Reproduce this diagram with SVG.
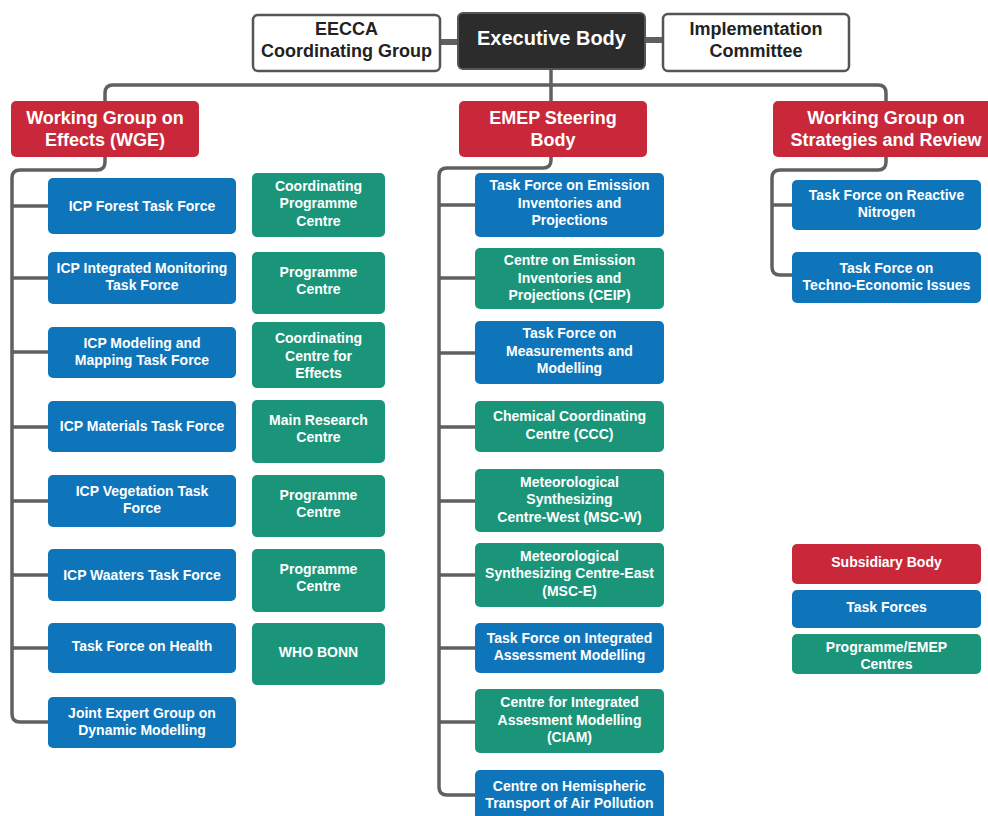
<svg xmlns="http://www.w3.org/2000/svg" width="988" height="816" viewBox="0 0 988 816">
<style>
text{font-family:"Liberation Sans",Arial,sans-serif;font-weight:bold;text-anchor:middle;fill:#fff;font-size:14px}
.red{fill:#C8283A}
.blue{fill:#0E75BA}
.green{fill:#1B957A}
.wbox{fill:#fff;stroke:#555;stroke-width:2.5}
.dark{fill:#2c2c2c;stroke:#555;stroke-width:2}
.hd{font-size:18px}
.dk{fill:#222;font-size:18px}
.eb{font-size:20px}
.c{fill:none;stroke:#606060;stroke-width:3.5;stroke-linejoin:round}
.ct{fill:none;stroke:#606060;stroke-width:6}
</style>
<rect width="988" height="816" fill="#fff"/>
<g id="connectors">
<path class="ct" d="M440,42 H458"/>
<path class="ct" d="M645,40 H663"/>
<path class="c" d="M105,101 V93 Q105,85 113,85 H878 Q886,85 886,93 V101"/>
<path class="c" d="M551,69 V101"/>
<path class="c" d="M105,157 V162 Q105,170 97,170 H20 Q12,170 12,178 V714 Q12,722 20,722 H48"/>
<path class="c" d="M12,206 H48 M12,278 H48 M12,352 H48 M12,427 H48 M12,501 H48 M12,575 H48 M12,648 H48"/>
<path class="c" d="M551,157 V160 Q551,168 543,168 H447 Q439,168 439,176 V787 Q439,795 447,795 H475"/>
<path class="c" d="M439,205 H475 M439,278 H475 M439,353 H475 M439,427 H475 M439,501 H475 M439,575 H475 M439,648 H475 M439,722 H475"/>
<path class="c" d="M886,157 V162 Q886,170 878,170 H780 Q772,170 772,178 V267 Q772,275 780,275 H792"/>
<path class="c" d="M772,205 H792"/>
</g>
<g id="eecca"><rect class="wbox" x="253" y="15" width="187" height="56" rx="5"/><text class="dk" x="346.5" y="35">EECCA</text><text class="dk" x="346.5" y="57">Coordinating Group</text></g>
<g id="executive"><rect class="dark" x="458" y="13" width="187" height="56" rx="5"/><text class="eb" x="551.5" y="45">Executive Body</text></g>
<g id="impl"><rect class="wbox" x="663" y="14" width="186" height="57" rx="5"/><text class="dk" x="756" y="35">Implementation</text><text class="dk" x="756" y="57">Committee</text></g>

<g id="wge"><rect class="red" x="11" y="101" width="188" height="56" rx="5"/><text class="hd" x="105" y="124">Working Group on</text><text class="hd" x="105" y="146">Effects (WGE)</text></g>
<g id="emep"><rect class="red" x="459" y="101" width="188" height="56" rx="5"/><text class="hd" x="553" y="124">EMEP Steering</text><text class="hd" x="553" y="146">Body</text></g>
<g id="wgsr"><rect class="red" x="773" y="101" width="222" height="56" rx="5"/><text class="hd" x="886" y="124">Working Group on</text><text class="hd" x="886" y="146">Strategies and Review</text></g>

<g id="icp-forest"><rect class="blue" x="48" y="178" width="188" height="56" rx="5"/><text x="142" y="211">ICP Forest Task Force</text></g>
<g id="icp-integrated"><rect class="blue" x="48" y="252" width="188" height="52" rx="5"/><text x="142" y="273">ICP Integrated Monitoring</text><text x="142" y="290">Task Force</text></g>
<g id="icp-modeling"><rect class="blue" x="48" y="327" width="188" height="51" rx="5"/><text x="142" y="348">ICP Modeling and</text><text x="142" y="365">Mapping Task Force</text></g>
<g id="icp-materials"><rect class="blue" x="48" y="401" width="188" height="51" rx="5"/><text x="142" y="431">ICP Materials Task Force</text></g>
<g id="icp-vegetation"><rect class="blue" x="48" y="475" width="188" height="52" rx="5"/><text x="142" y="496">ICP Vegetation Task</text><text x="142" y="513">Force</text></g>
<g id="icp-waters"><rect class="blue" x="48" y="549" width="188" height="52" rx="5"/><text x="142" y="580">ICP Waaters Task Force</text></g>
<g id="tf-health"><rect class="blue" x="48" y="623" width="188" height="50" rx="5"/><text x="142" y="651">Task Force on Health</text></g>
<g id="joint-expert"><rect class="blue" x="48" y="697" width="188" height="51" rx="5"/><text x="142" y="718">Joint Expert Group on</text><text x="142" y="735">Dynamic Modelling</text></g>

<g id="cpc"><rect class="green" x="252" y="173" width="133" height="64" rx="5"/><text x="318.5" y="191">Coordinating</text><text x="318.5" y="208">Programme</text><text x="318.5" y="226">Centre</text></g>
<g id="pc1"><rect class="green" x="252" y="252" width="133" height="62" rx="5"/><text x="318.5" y="277">Programme</text><text x="318.5" y="294">Centre</text></g>
<g id="cce"><rect class="green" x="252" y="322" width="133" height="66" rx="5"/><text x="318.5" y="343">Coordinating</text><text x="318.5" y="361">Centre for</text><text x="318.5" y="378">Effects</text></g>
<g id="mrc"><rect class="green" x="252" y="400" width="133" height="63" rx="5"/><text x="318.5" y="425">Main Research</text><text x="318.5" y="442">Centre</text></g>
<g id="pc2"><rect class="green" x="252" y="475" width="133" height="62" rx="5"/><text x="318.5" y="500">Programme</text><text x="318.5" y="517">Centre</text></g>
<g id="pc3"><rect class="green" x="252" y="549" width="133" height="63" rx="5"/><text x="318.5" y="574">Programme</text><text x="318.5" y="591">Centre</text></g>
<g id="who"><rect class="green" x="252" y="623" width="133" height="62" rx="5"/><text x="318.5" y="657">WHO BONN</text></g>

<g id="tf-emission"><rect class="blue" x="475" y="173" width="189" height="64" rx="5"/><text x="569.5" y="190">Task Force on Emission</text><text x="569.5" y="208">Inventories and</text><text x="569.5" y="225">Projections</text></g>
<g id="ceip"><rect class="green" x="475" y="248" width="189" height="61" rx="5"/><text x="569.5" y="265">Centre on Emission</text><text x="569.5" y="283">Inventories and</text><text x="569.5" y="300">Projections (CEIP)</text></g>
<g id="tf-measure"><rect class="blue" x="475" y="321" width="189" height="63" rx="5"/><text x="569.5" y="338">Task Force on</text><text x="569.5" y="356">Measurements and</text><text x="569.5" y="373">Modelling</text></g>
<g id="ccc"><rect class="green" x="475" y="401" width="189" height="51" rx="5"/><text x="569.5" y="421">Chemical Coordinating</text><text x="569.5" y="439">Centre (CCC)</text></g>
<g id="msc-w"><rect class="green" x="475" y="469" width="189" height="63" rx="5"/><text x="569.5" y="487">Meteorological</text><text x="569.5" y="504">Synthesizing</text><text x="569.5" y="522">Centre-West (MSC-W)</text></g>
<g id="msc-e"><rect class="green" x="475" y="543" width="189" height="64" rx="5"/><text x="569.5" y="561">Meteorological</text><text x="569.5" y="578">Synthesizing Centre-East</text><text x="569.5" y="596">(MSC-E)</text></g>
<g id="tf-iam"><rect class="blue" x="475" y="623" width="189" height="50" rx="5"/><text x="569.5" y="643">Task Force on Integrated</text><text x="569.5" y="660">Assessment Modelling</text></g>
<g id="ciam"><rect class="green" x="475" y="689" width="189" height="64" rx="5"/><text x="569.5" y="707">Centre for Integrated</text><text x="569.5" y="725">Assesment Modelling</text><text x="569.5" y="742">(CIAM)</text></g>
<g id="htap"><rect class="blue" x="475" y="770" width="189" height="52" rx="5"/><text x="569.5" y="791">Centre on Hemispheric</text><text x="569.5" y="808">Transport of Air Pollution</text></g>

<g id="tf-nitrogen"><rect class="blue" x="792" y="180" width="189" height="50" rx="5"/><text x="886.5" y="200">Task Force on Reactive</text><text x="886.5" y="217">Nitrogen</text></g>
<g id="tf-techno"><rect class="blue" x="792" y="252" width="189" height="51" rx="5"/><text x="886.5" y="273">Task Force on</text><text x="886.5" y="290">Techno-Economic Issues</text></g>

<g id="legend-subsidiary"><rect class="red" x="792" y="544" width="189" height="40" rx="5"/><text x="886.5" y="567">Subsidiary Body</text></g>
<g id="legend-tf"><rect class="blue" x="792" y="590" width="189" height="38" rx="5"/><text x="886.5" y="612">Task Forces</text></g>
<g id="legend-centres"><rect class="green" x="792" y="634" width="189" height="40" rx="5"/><text x="886.5" y="652">Programme/EMEP</text><text x="886.5" y="669">Centres</text></g>
</svg>
